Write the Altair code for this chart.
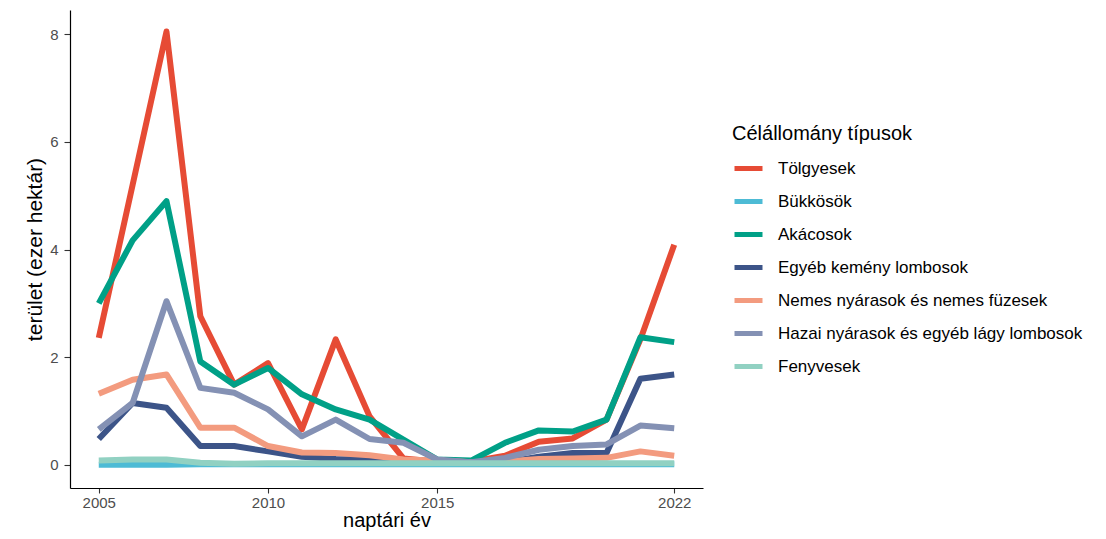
import altair as alt
import pandas as pd

years = list(range(2005, 2023))
series = ["Tölgyesek", "Bükkösök", "Akácosok", "Egyéb kemény lombosok",
          "Nemes nyárasok és nemes füzesek", "Hazai nyárasok és egyéb lágy lombosok", "Fenyvesek"]
colors = ["#E64B35", "#4DBBD5", "#00A087", "#3C5488", "#F39B7F", "#8491B4", "#91D1C2"]

tolgyesek = [2.36, 5.2, 8.05, 2.76, 1.49, 1.89, 0.66, 2.33, 0.9, 0.12, 0.06, 0.06, 0.17, 0.43, 0.49, 0.84, 2.33, 4.09]
bukkosok = [0.0, 0.0, 0.0, 0.01, 0.01, 0.01, 0.01, 0.01, 0.01, 0.01, 0.01, 0.01, 0.01, 0.01, 0.01, 0.01, 0.01, 0.01]
akacosok = [3.0, 4.17, 4.9, 1.92, 1.49, 1.8, 1.31, 1.03, 0.84, 0.47, 0.1, 0.08, 0.41, 0.64, 0.62, 0.84, 2.37, 2.28]
egyeb_kemeny = [0.48, 1.15, 1.06, 0.35, 0.35, 0.25, 0.15, 0.11, 0.1, 0.08, 0.05, 0.05, 0.05, 0.15, 0.22, 0.22, 1.6, 1.68]
nemes_nyar = [1.32, 1.58, 1.68, 0.69, 0.69, 0.35, 0.23, 0.22, 0.18, 0.1, 0.08, 0.05, 0.06, 0.11, 0.12, 0.13, 0.25, 0.17]
hazai_nyar = [0.66, 1.15, 3.04, 1.43, 1.34, 1.03, 0.53, 0.84, 0.48, 0.41, 0.1, 0.05, 0.13, 0.28, 0.35, 0.38, 0.73, 0.68]
fenyvesek = [0.08, 0.1, 0.1, 0.04, 0.02, 0.03, 0.03, 0.03, 0.03, 0.03, 0.03, 0.03, 0.03, 0.03, 0.03, 0.03, 0.03, 0.03]

values = [tolgyesek, bukkosok, akacosok, egyeb_kemeny, nemes_nyar, hazai_nyar, fenyvesek]
x_ticks = [2005, 2010, 2015, 2022]
y_ticks = [0, 2, 4, 6, 8]

rows = []
for i, (name, vals) in enumerate(zip(series, values)):
    for y, v in zip(years, vals):
        rows.append({"ev": y, "terulet": v, "tipus": name, "ord": i})
df = pd.DataFrame(rows)

FONT = "Liberation Sans"

chart = alt.Chart(df).mark_line(strokeWidth=6, strokeJoin="round", strokeCap="butt").encode(
    x=alt.X("ev:Q", title="naptári év",
            scale=alt.Scale(domain=[2004.15, 2022.85], nice=False, zero=False),
            axis=alt.Axis(values=x_ticks, format="d", grid=False, tickSize=5, labelPadding=2,
                          labelFontSize=15, titlePadding=0, titleFontSize=20)),
    y=alt.Y("terulet:Q", title="terület (ezer hektár)",
            scale=alt.Scale(domain=[-0.43, 8.45], nice=False, zero=False),
            axis=alt.Axis(values=y_ticks, grid=False, tickSize=6, labelPadding=6,
                          labelFontSize=15, titlePadding=4, titleFontSize=21)),
    color=alt.Color("tipus:N", title="Célállomány típusok",
                    scale=alt.Scale(domain=series, range=colors),
                    legend=alt.Legend(orient="none", legendX=662, legendY=114,
                                      symbolType="stroke", symbolSize=784, symbolStrokeWidth=5,
                                      rowPadding=6, labelOffset=13, titlePadding=8,
                                      labelLimit=0, titleLimit=0)),
    order=alt.Order("ord:Q"),
).properties(
    width=633, height=478,
    autosize=alt.AutoSizeParams(type="none"),
    padding={"left": 62, "top": 2, "right": 395, "bottom": 43},
).configure_view(stroke=None).configure_axis(
    domainColor="black", domainWidth=1.2, tickColor="#333333", tickWidth=1.1,
    labelFont=FONT, labelColor="#4d4d4d",
    titleFont=FONT, titleColor="black", titleFontWeight="normal",
).configure_legend(
    titleFont=FONT, titleFontSize=20, titleFontWeight="normal", titleColor="black",
    labelFont=FONT, labelFontSize=17, labelColor="black",
)

chart.save("out.html", embed_options={"renderer": "svg", "actions": False})
